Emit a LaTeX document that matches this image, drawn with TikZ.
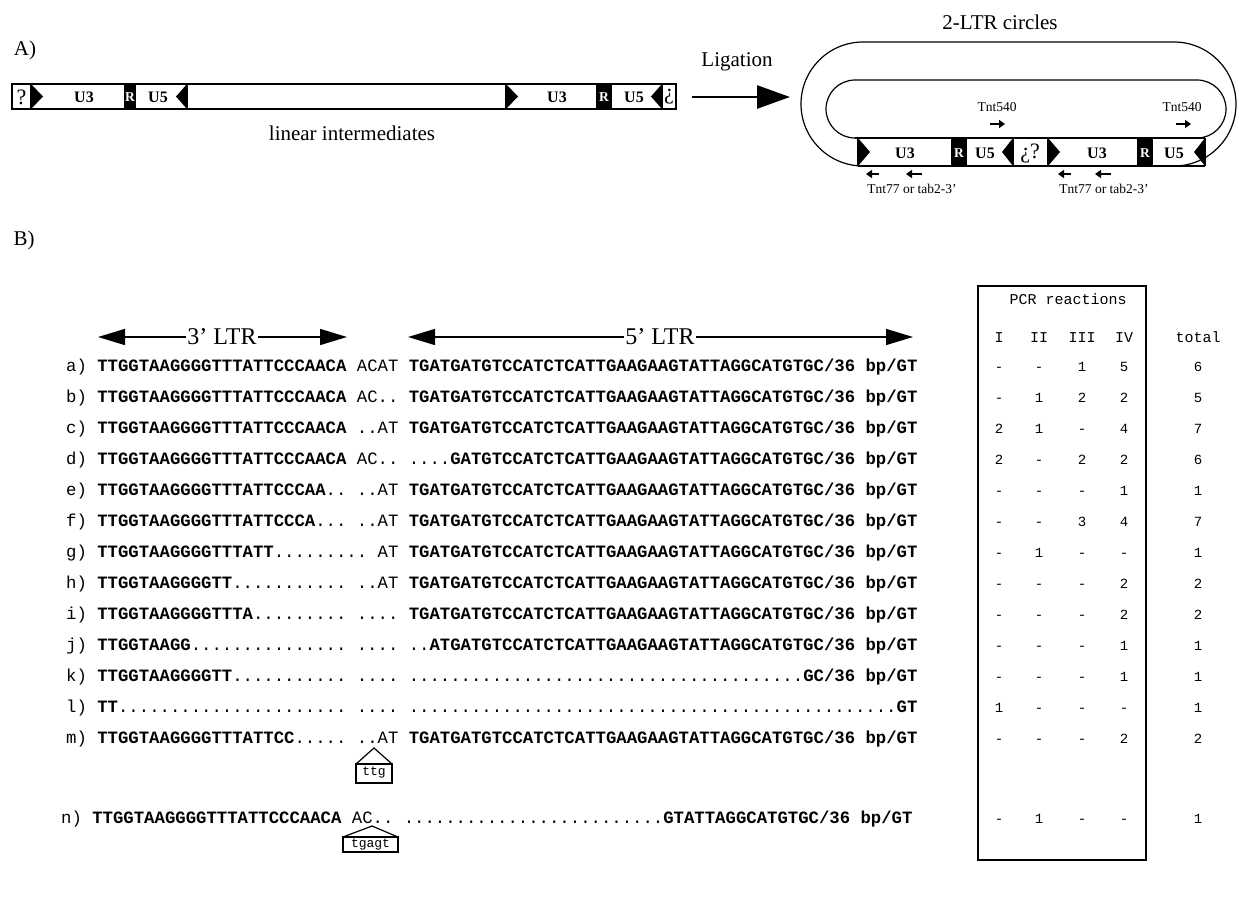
\documentclass[tikz,border=0pt]{standalone}
\usepackage{fontspec}
\setmainfont{Liberation Serif}
\newfontfamily\seqf{Liberation Mono}
\usetikzlibrary{arrows.meta}
\newcommand{\sqb}[1]{{\bfseries #1}}
\tikzset{
  lbl/.style={font=\fontsize{21}{24}\selectfont, inner sep=0pt},
  ltrlbl/.style={font=\fontsize{24}{28}\selectfont, inner sep=1.5pt, fill=white},
  boxtxt/.style={font=\fontsize{16}{18}\selectfont\bfseries, inner sep=0pt},
  rtxt/.style={font=\fontsize{13.5}{15}\selectfont\bfseries, text=white, inner sep=0pt},
  qtxt/.style={font=\fontsize{22}{24}\selectfont, inner sep=0pt},
  primlbl/.style={font=\fontsize{13.5}{16}\selectfont, inner sep=0pt},
  seqrow/.style={font=\seqf\fontsize{17.3}{20}\selectfont\frenchspacing, anchor=base west, inner sep=0pt},
  cell/.style={font=\seqf\fontsize{14}{16}\selectfont, anchor=base, inner sep=0pt},
  hcell/.style={font=\seqf\fontsize{15}{17}\selectfont, anchor=base, inner sep=0pt},
  instxt/.style={font=\seqf\fontsize{13}{15}\selectfont, inner sep=0pt},
  outl/.style={line width=1.2pt},
  bigarrow/.style={line width=2.6pt, -{Triangle[length=33pt,width=23pt]}},
  ltrarrow/.style={line width=1.4pt, -{Triangle[length=27pt,width=16pt]}},
  primer/.style={line width=2.8pt, -{Triangle[length=6pt,width=8pt]}},
}
\begin{document}
\frenchspacing
\begin{tikzpicture}[x=1pt,y=-1pt]
\useasboundingbox (0,0) rectangle (1238,899);

% ---------------- Part A ----------------
\node[lbl] (labA) at (25,50) {A)};

% linear intermediate bar
\draw[outl] (12,84) rectangle (676,109);
\foreach \xx in {31,125,135,187,506,597,611,662} \draw[outl] (\xx,84) -- (\xx,109);
\fill (125,84) rectangle (135,109);
\fill (597,84) rectangle (611,109);
\fill (31,84) -- (31,109) -- (43,96.5) -- cycle;
\fill (187,84) -- (187,109) -- (176,96.5) -- cycle;
\fill (506,84) -- (506,109) -- (518,96.5) -- cycle;
\fill (662,84) -- (662,109) -- (651,96.5) -- cycle;
\node[qtxt] (q1) at (21.5,97) {?};
\node[boxtxt] (u3a) at (84,97) {U3};
\node[rtxt] (ra1) at (130,97) {R};
\node[boxtxt] (u5a) at (158,97) {U5};
\node[boxtxt] (u3b) at (557,97) {U3};
\node[rtxt] (ra2) at (604,97) {R};
\node[boxtxt] (u5b) at (634,97) {U5};
\node[qtxt] (q2) at (669,97) {¿};
\node[lbl] (linint) at (352,133) {linear intermediates};

% ligation arrow
\node[lbl] (lig) at (737,62) {Ligation};
\coordinate (ligS) at (692,97);
\coordinate (ligE) at (790,97);
\draw[bigarrow] (ligS) -- (ligE);

% 2-LTR circle
\node[lbl] (circ) at (1000,22) {2-LTR circles};
\draw[outl, rounded corners=62pt] (863,166) -- (801,166) -- (801,42) -- (1236,42) -- (1236,166) -- (1174,166);
\draw[outl, rounded corners=29pt] (855,138) -- (826,138) -- (826,80) -- (1226,80) -- (1226,138) -- (1197,138);
\draw[outl] (855,138) -- (1205,138);
\draw[outl] (858,166) -- (1205,166);
\foreach \xx in {858,952,966,1013,1048,1138,1152,1205} \draw[outl] (\xx,138) -- (\xx,166);
\fill (952,138) rectangle (966,166);
\fill (1138,138) rectangle (1152,166);
\fill (858,138) -- (858,166) -- (870,152) -- cycle;
\fill (1013,138) -- (1013,166) -- (1002,152) -- cycle;
\fill (1048,138) -- (1048,166) -- (1060,152) -- cycle;
\fill (1205,138) -- (1205,166) -- (1194,152) -- cycle;
\node[boxtxt] (cu3a) at (905,153) {U3};
\node[rtxt] (cra) at (959,153) {R};
\node[boxtxt] (cu5a) at (985,153) {U5};
\node[qtxt] (cq) at (1030,153) {¿?};
\node[boxtxt] (cu3b) at (1097,153) {U3};
\node[rtxt] (crb) at (1145,153) {R};
\node[boxtxt] (cu5b) at (1174,153) {U5};

% primers
\node[primlbl] (t540a) at (997,107) {Tnt540};
\node[primlbl] (t540b) at (1182,107) {Tnt540};
\coordinate (p1s) at (990,124); \coordinate (p1e) at (1005,124);
\coordinate (p2s) at (1176,124); \coordinate (p2e) at (1191,124);
\draw[primer] (p1s) -- (p1e);
\draw[primer] (p2s) -- (p2e);
\coordinate (p3s) at (879,174); \coordinate (p3e) at (866,174);
\coordinate (p4s) at (922,174); \coordinate (p4e) at (906,174);
\coordinate (p5s) at (1071,174); \coordinate (p5e) at (1058,174);
\coordinate (p6s) at (1111,174); \coordinate (p6e) at (1095,174);
\draw[primer] (p3s) -- (p3e);
\draw[primer] (p4s) -- (p4e);
\draw[primer] (p5s) -- (p5e);
\draw[primer] (p6s) -- (p6e);
\node[primlbl] (t77a) at (912,189) {Tnt77 or tab2-3’};
\node[primlbl] (t77b) at (1104,189) {Tnt77 or tab2-3’};

% ---------------- Part B ----------------
\node[lbl] (labB) at (24,240) {B)};

% LTR header arrows
\node[ltrlbl] (l3) at (222,337) {3’ LTR};
\coordinate (l3a) at (98,337); \coordinate (l3b) at (347,337);
\draw[ltrarrow] (l3.west) -- (l3a);
\draw[ltrarrow] (l3.east) -- (l3b);
\node[ltrlbl] (l5) at (660,337) {5’ LTR};
\coordinate (l5a) at (408,337); \coordinate (l5b) at (913,337);
\draw[ltrarrow] (l5.west) -- (l5a);
\draw[ltrarrow] (l5.east) -- (l5b);

% sequence rows
\node[seqrow] (ra) at (66,371) {a) \sqb{TTGGTAAGGGGTTTATTCCCAACA} ACAT \sqb{TGATGATGTCCATCTCATTGAAGAAGTATTAGGCATGTGC/36 bp/GT}};
\node[seqrow] (rb) at (66,402) {b) \sqb{TTGGTAAGGGGTTTATTCCCAACA} AC.. \sqb{TGATGATGTCCATCTCATTGAAGAAGTATTAGGCATGTGC/36 bp/GT}};
\node[seqrow] (rc) at (66,433) {c) \sqb{TTGGTAAGGGGTTTATTCCCAACA} ..AT \sqb{TGATGATGTCCATCTCATTGAAGAAGTATTAGGCATGTGC/36 bp/GT}};
\node[seqrow] (rd) at (66,464) {d) \sqb{TTGGTAAGGGGTTTATTCCCAACA} AC.. ....\sqb{GATGTCCATCTCATTGAAGAAGTATTAGGCATGTGC/36 bp/GT}};
\node[seqrow] (re) at (66,495) {e) \sqb{TTGGTAAGGGGTTTATTCCCAA}.. ..AT \sqb{TGATGATGTCCATCTCATTGAAGAAGTATTAGGCATGTGC/36 bp/GT}};
\node[seqrow] (rf) at (66,526) {f) \sqb{TTGGTAAGGGGTTTATTCCCA}... ..AT \sqb{TGATGATGTCCATCTCATTGAAGAAGTATTAGGCATGTGC/36 bp/GT}};
\node[seqrow] (rg) at (66,557) {g) \sqb{TTGGTAAGGGGTTTATT}......... AT \sqb{TGATGATGTCCATCTCATTGAAGAAGTATTAGGCATGTGC/36 bp/GT}};
\node[seqrow] (rh) at (66,588) {h) \sqb{TTGGTAAGGGGTT}........... ..AT \sqb{TGATGATGTCCATCTCATTGAAGAAGTATTAGGCATGTGC/36 bp/GT}};
\node[seqrow] (ri) at (66,619) {i) \sqb{TTGGTAAGGGGTTTA}......... .... \sqb{TGATGATGTCCATCTCATTGAAGAAGTATTAGGCATGTGC/36 bp/GT}};
\node[seqrow] (rj) at (66,650) {j) \sqb{TTGGTAAGG}............... .... ..\sqb{ATGATGTCCATCTCATTGAAGAAGTATTAGGCATGTGC/36 bp/GT}};
\node[seqrow] (rk) at (66,681) {k) \sqb{TTGGTAAGGGGTT}........... .... ......................................\sqb{GC/36 bp/GT}};
\node[seqrow] (rl) at (66,712) {l) \sqb{TT}...................... .... ...............................................\sqb{GT}};
\node[seqrow] (rm) at (66,743) {m) \sqb{TTGGTAAGGGGTTTATTCC}..... ..AT \sqb{TGATGATGTCCATCTCATTGAAGAAGTATTAGGCATGTGC/36 bp/GT}};
\node[seqrow] (rn) at (61,823) {n) \sqb{TTGGTAAGGGGTTTATTCCCAACA} AC.. .........................\sqb{GTATTAGGCATGTGC/36 bp/GT}};

% insertions
\draw[outl] (356,764) -- (374,748) -- (392,764);
\draw[outl] (356,764) rectangle (392,783);
\node[instxt] (ins1) at (374,773) {ttg};
\draw[outl] (343,837) -- (372,826) -- (398,837);
\draw[outl] (343,837) rectangle (398,852);
\node[instxt] (ins2) at (370.5,844.5) {tgagt};

% PCR table
\draw[line width=2pt] (978,286) rectangle (1146,860);
\node[hcell, anchor=center] (pcr) at (1068,299) {PCR reactions};
\node[hcell] (hI) at (999,342) {I};
\node[hcell] (hII) at (1039,342) {II};
\node[hcell] (hIII) at (1082,342) {III};
\node[hcell] (hIV) at (1124,342) {IV};
\node[hcell] (htot) at (1198,342) {total};
\foreach \r/\yy/\ca/\cb/\cc/\cd/\ct in {
  a/371/-/-/1/5/6, b/402/-/1/2/2/5, c/433/2/1/-/4/7, d/464/2/-/2/2/6,
  e/495/-/-/-/1/1, f/526/-/-/3/4/7, g/557/-/1/-/-/1, h/588/-/-/-/2/2,
  i/619/-/-/-/2/2, j/650/-/-/-/1/1, k/681/-/-/-/1/1, l/712/1/-/-/-/1,
  m/743/-/-/-/2/2, n/823/-/1/-/-/1} {
  \node[cell] (c\r1) at (999,\yy) {\ca};
  \node[cell] (c\r2) at (1039,\yy) {\cb};
  \node[cell] (c\r3) at (1082,\yy) {\cc};
  \node[cell] (c\r4) at (1124,\yy) {\cd};
  \node[cell] (c\r5) at (1198,\yy) {\ct};
}
\end{tikzpicture}
\end{document}
